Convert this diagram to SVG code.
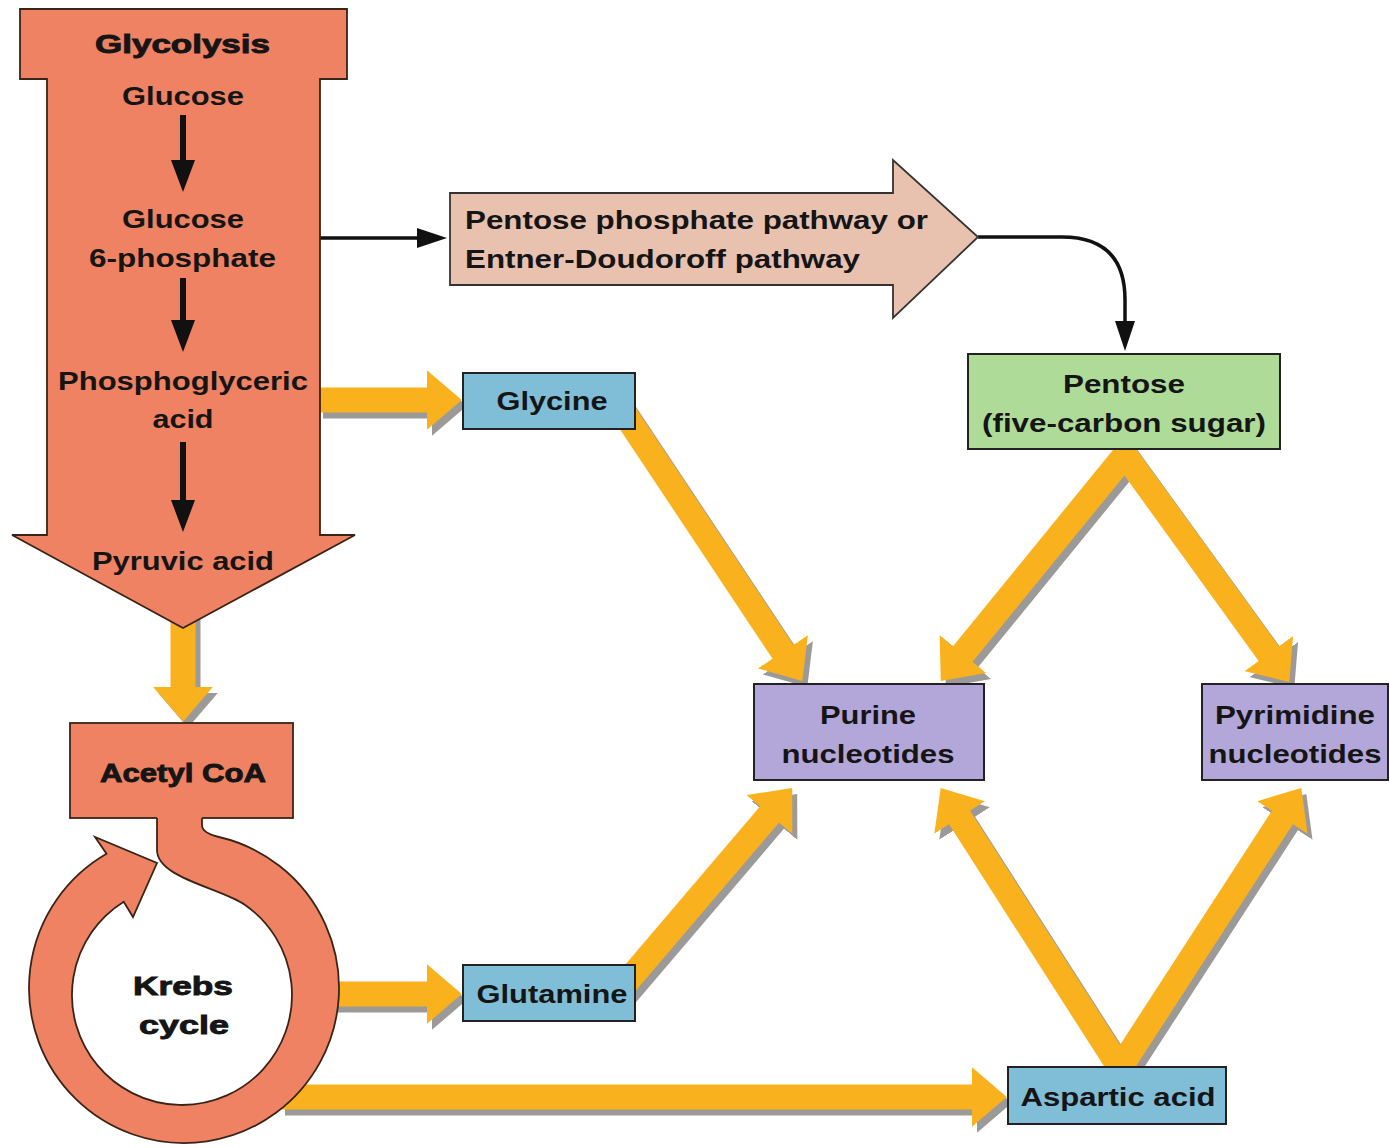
<svg xmlns="http://www.w3.org/2000/svg" width="1389" height="1148" viewBox="0 0 1389 1148">
<style>
  .t { font-family: "Liberation Sans", Arial, sans-serif; font-weight: bold; font-size: 26px; fill: #151515; text-anchor: middle; lengthAdjust: spacingAndGlyphs; }
  .tl { text-anchor: start; }
  .heavy { stroke: #151515; stroke-width: 0.9px; }
  .salmon { fill: #ef8262; stroke: #3a2418; stroke-width: 1.8; stroke-linejoin: miter; }
  .box { stroke: #222; stroke-width: 2; }
  .blue { fill: #80bdd6; }
  .green { fill: #afdb99; }
  .purple { fill: #b3a6d8; }
  .tan { fill: #e9c2af; stroke: #333; stroke-width: 1.8; }
  .yl { fill: none; stroke: #f9b21d; stroke-width: 25; stroke-linejoin: miter; marker-end: url(#hy); }
  .sh { fill: none; stroke: #9c9a98; stroke-width: 25; stroke-linejoin: miter; marker-end: url(#hg); }
  .ylv { marker-start: url(#hy); }
  .shv { marker-start: url(#hg); }
  .blk { fill: none; stroke: #111; stroke-width: 6; marker-end: url(#hb); }
  .blk2 { fill: none; stroke: #111; stroke-width: 3.5; marker-end: url(#hb2); }
</style>
<defs>
  <marker id="hy" viewBox="0 0 1.4 2.4" refX="0.05" refY="1.2" markerWidth="1.4" markerHeight="2.4" orient="auto-start-reverse" markerUnits="strokeWidth">
    <path d="M0,0 L1.4,1.2 L0,2.4 Z" fill="#f9b21d"/>
  </marker>
  <marker id="hg" viewBox="0 0 1.4 2.4" refX="0.05" refY="1.2" markerWidth="1.4" markerHeight="2.4" orient="auto-start-reverse" markerUnits="strokeWidth">
    <path d="M0,0 L1.4,1.2 L0,2.4 Z" fill="#9c9a98"/>
  </marker>
  <marker id="hb" viewBox="0 0 32 24" refX="1" refY="12" markerWidth="32" markerHeight="24" orient="auto" markerUnits="userSpaceOnUse">
    <path d="M0,0 L32,12 L0,24 Z" fill="#111"/>
  </marker>
  <marker id="hb2" viewBox="0 0 30 20" refX="1" refY="10" markerWidth="30" markerHeight="20" orient="auto" markerUnits="userSpaceOnUse">
    <path d="M0,0 L30,10 L0,20 Z" fill="#111"/>
  </marker>
</defs>
<rect width="1389" height="1148" fill="#fff"/>

<g id="connectors">
  <g id="shadows" transform="translate(5,6)">
    <path class="sh" d="M318,400 L428,400"/>
    <path class="sh" d="M620.2,407.1 L783.6,652.8"/>
    <path class="sh shv" d="M962.1,654.9 L1125,455 L1269.5,654.6"/>
    <path class="sh" d="M620,990 L770.3,813.6"/>
    <path class="sh shv" d="M958.9,816.5 L1120,1068 L1283,816.4"/>
    <path class="sh" d="M330,994 L428,994"/>
    <path class="sh" d="M280,1097 L973,1097"/>
    <path class="sh" d="M183,610 L183,688"/>
  </g>
  <g id="yellow">
    <path class="yl" d="M318,400 L428,400"/>
    <path class="yl" d="M620.2,407.1 L783.6,652.8"/>
    <path class="yl ylv" d="M962.1,654.9 L1125,455 L1269.5,654.6"/>
    <path class="yl" d="M620,990 L770.3,813.6"/>
    <path class="yl ylv" d="M958.9,816.5 L1120,1068 L1283,816.4"/>
    <path class="yl" d="M330,994 L428,994"/>
    <path class="yl" d="M280,1097 L973,1097"/>
    <path class="yl" d="M183,610 L183,688"/>
  </g>
  <path class="blk2" d="M320,238 L418,238"/>
  <path class="blk2" d="M978,237 L1062,237 Q1125,237 1125,300 L1125,322"/>
</g>

<g id="node-glycolysis">
  <path class="salmon" d="M20,9 L347,9 L347,79 L320,79 L320,535 L355,535 L183,628 L12,535 L47,535 L47,79 L20,79 Z"/>
  <text class="t heavy" x="182.5" y="53" font-size="28" textLength="175" lengthAdjust="spacingAndGlyphs">Glycolysis</text>
  <text class="t" x="183" y="105" textLength="122" lengthAdjust="spacingAndGlyphs">Glucose</text>
  <path class="blk" d="M183,115 L183,161"/>
  <text class="t" x="183" y="228" textLength="122" lengthAdjust="spacingAndGlyphs">Glucose</text>
  <text class="t" x="182.5" y="267" textLength="187" lengthAdjust="spacingAndGlyphs">6-phosphate</text>
  <path class="blk" d="M183,278 L183,321"/>
  <text class="t" x="183" y="390" textLength="250" lengthAdjust="spacingAndGlyphs">Phosphoglyceric</text>
  <text class="t" x="183" y="428" textLength="61" lengthAdjust="spacingAndGlyphs">acid</text>
  <path class="blk" d="M183,442 L183,501"/>
  <text class="t" x="183" y="570" textLength="182" lengthAdjust="spacingAndGlyphs">Pyruvic acid</text>
</g>

<g id="node-acetyl-coa">
  <rect class="salmon" x="70" y="723" width="223" height="95"/>
  <text class="t heavy" x="183" y="782" textLength="166" lengthAdjust="spacingAndGlyphs">Acetyl CoA</text>
</g>

<g id="node-krebs">
  <path fill="#ef8262" d="M202,816 L202,825 Q202,833 218.9,837 A155,155 0 1 1 106.5,853.8 L95,837 L157,863 L133,917 L123.7,901.7 A110,110 0 1 0 245.1,904.9 C220.4,887.8 157,878 157,850 L157,816 Z"/>
  <path fill="none" stroke="#3a2418" stroke-width="1.8" stroke-linejoin="miter" d="M202,818 L202,825 Q202,833 218.9,837 A155,155 0 1 1 106.5,853.8 L95,837 L157,863 L133,917 L123.7,901.7 A110,110 0 1 0 245.1,904.9 C220.4,887.8 157,878 157,850 L157,818"/>
  <text class="t heavy" x="183" y="995" textLength="100" lengthAdjust="spacingAndGlyphs">Krebs</text>
  <text class="t heavy" x="184" y="1034" textLength="90" lengthAdjust="spacingAndGlyphs">cycle</text>
</g>

<g id="node-pentose-pathway">
  <path class="tan" d="M450,193 L893,193 L893,160 L978,237 L893,318 L893,285 L450,285 Z"/>
  <text class="t tl" x="465" y="229" textLength="463" lengthAdjust="spacingAndGlyphs">Pentose phosphate pathway or</text>
  <text class="t tl" x="465" y="268" textLength="395" lengthAdjust="spacingAndGlyphs">Entner-Doudoroff pathway</text>
</g>

<g id="node-pentose">
  <rect class="box green" x="968" y="354" width="312" height="95"/>
  <text class="t" x="1124" y="393" textLength="122" lengthAdjust="spacingAndGlyphs">Pentose</text>
  <text class="t" x="1124" y="432" textLength="284" lengthAdjust="spacingAndGlyphs">(five-carbon sugar)</text>
</g>

<g id="node-glycine">
  <rect class="box blue" x="463" y="373" width="172" height="56"/>
  <text class="t" x="552" y="410" textLength="111" lengthAdjust="spacingAndGlyphs">Glycine</text>
</g>

<g id="node-glutamine">
  <rect class="box blue" x="463" y="965" width="172" height="56"/>
  <text class="t" x="552" y="1003" textLength="151" lengthAdjust="spacingAndGlyphs">Glutamine</text>
</g>

<g id="node-aspartic-acid">
  <rect class="box blue" x="1008" y="1067" width="218" height="57"/>
  <text class="t" x="1118" y="1106" textLength="195" lengthAdjust="spacingAndGlyphs">Aspartic acid</text>
</g>

<g id="node-purine">
  <rect class="box purple" x="754" y="684" width="230" height="96"/>
  <text class="t" x="868" y="724" textLength="96" lengthAdjust="spacingAndGlyphs">Purine</text>
  <text class="t" x="868" y="763" textLength="173" lengthAdjust="spacingAndGlyphs">nucleotides</text>
</g>

<g id="node-pyrimidine">
  <rect class="box purple" x="1202" y="684" width="186" height="96"/>
  <text class="t" x="1295" y="724" textLength="160" lengthAdjust="spacingAndGlyphs">Pyrimidine</text>
  <text class="t" x="1295" y="763" textLength="173" lengthAdjust="spacingAndGlyphs">nucleotides</text>
</g>
</svg>
